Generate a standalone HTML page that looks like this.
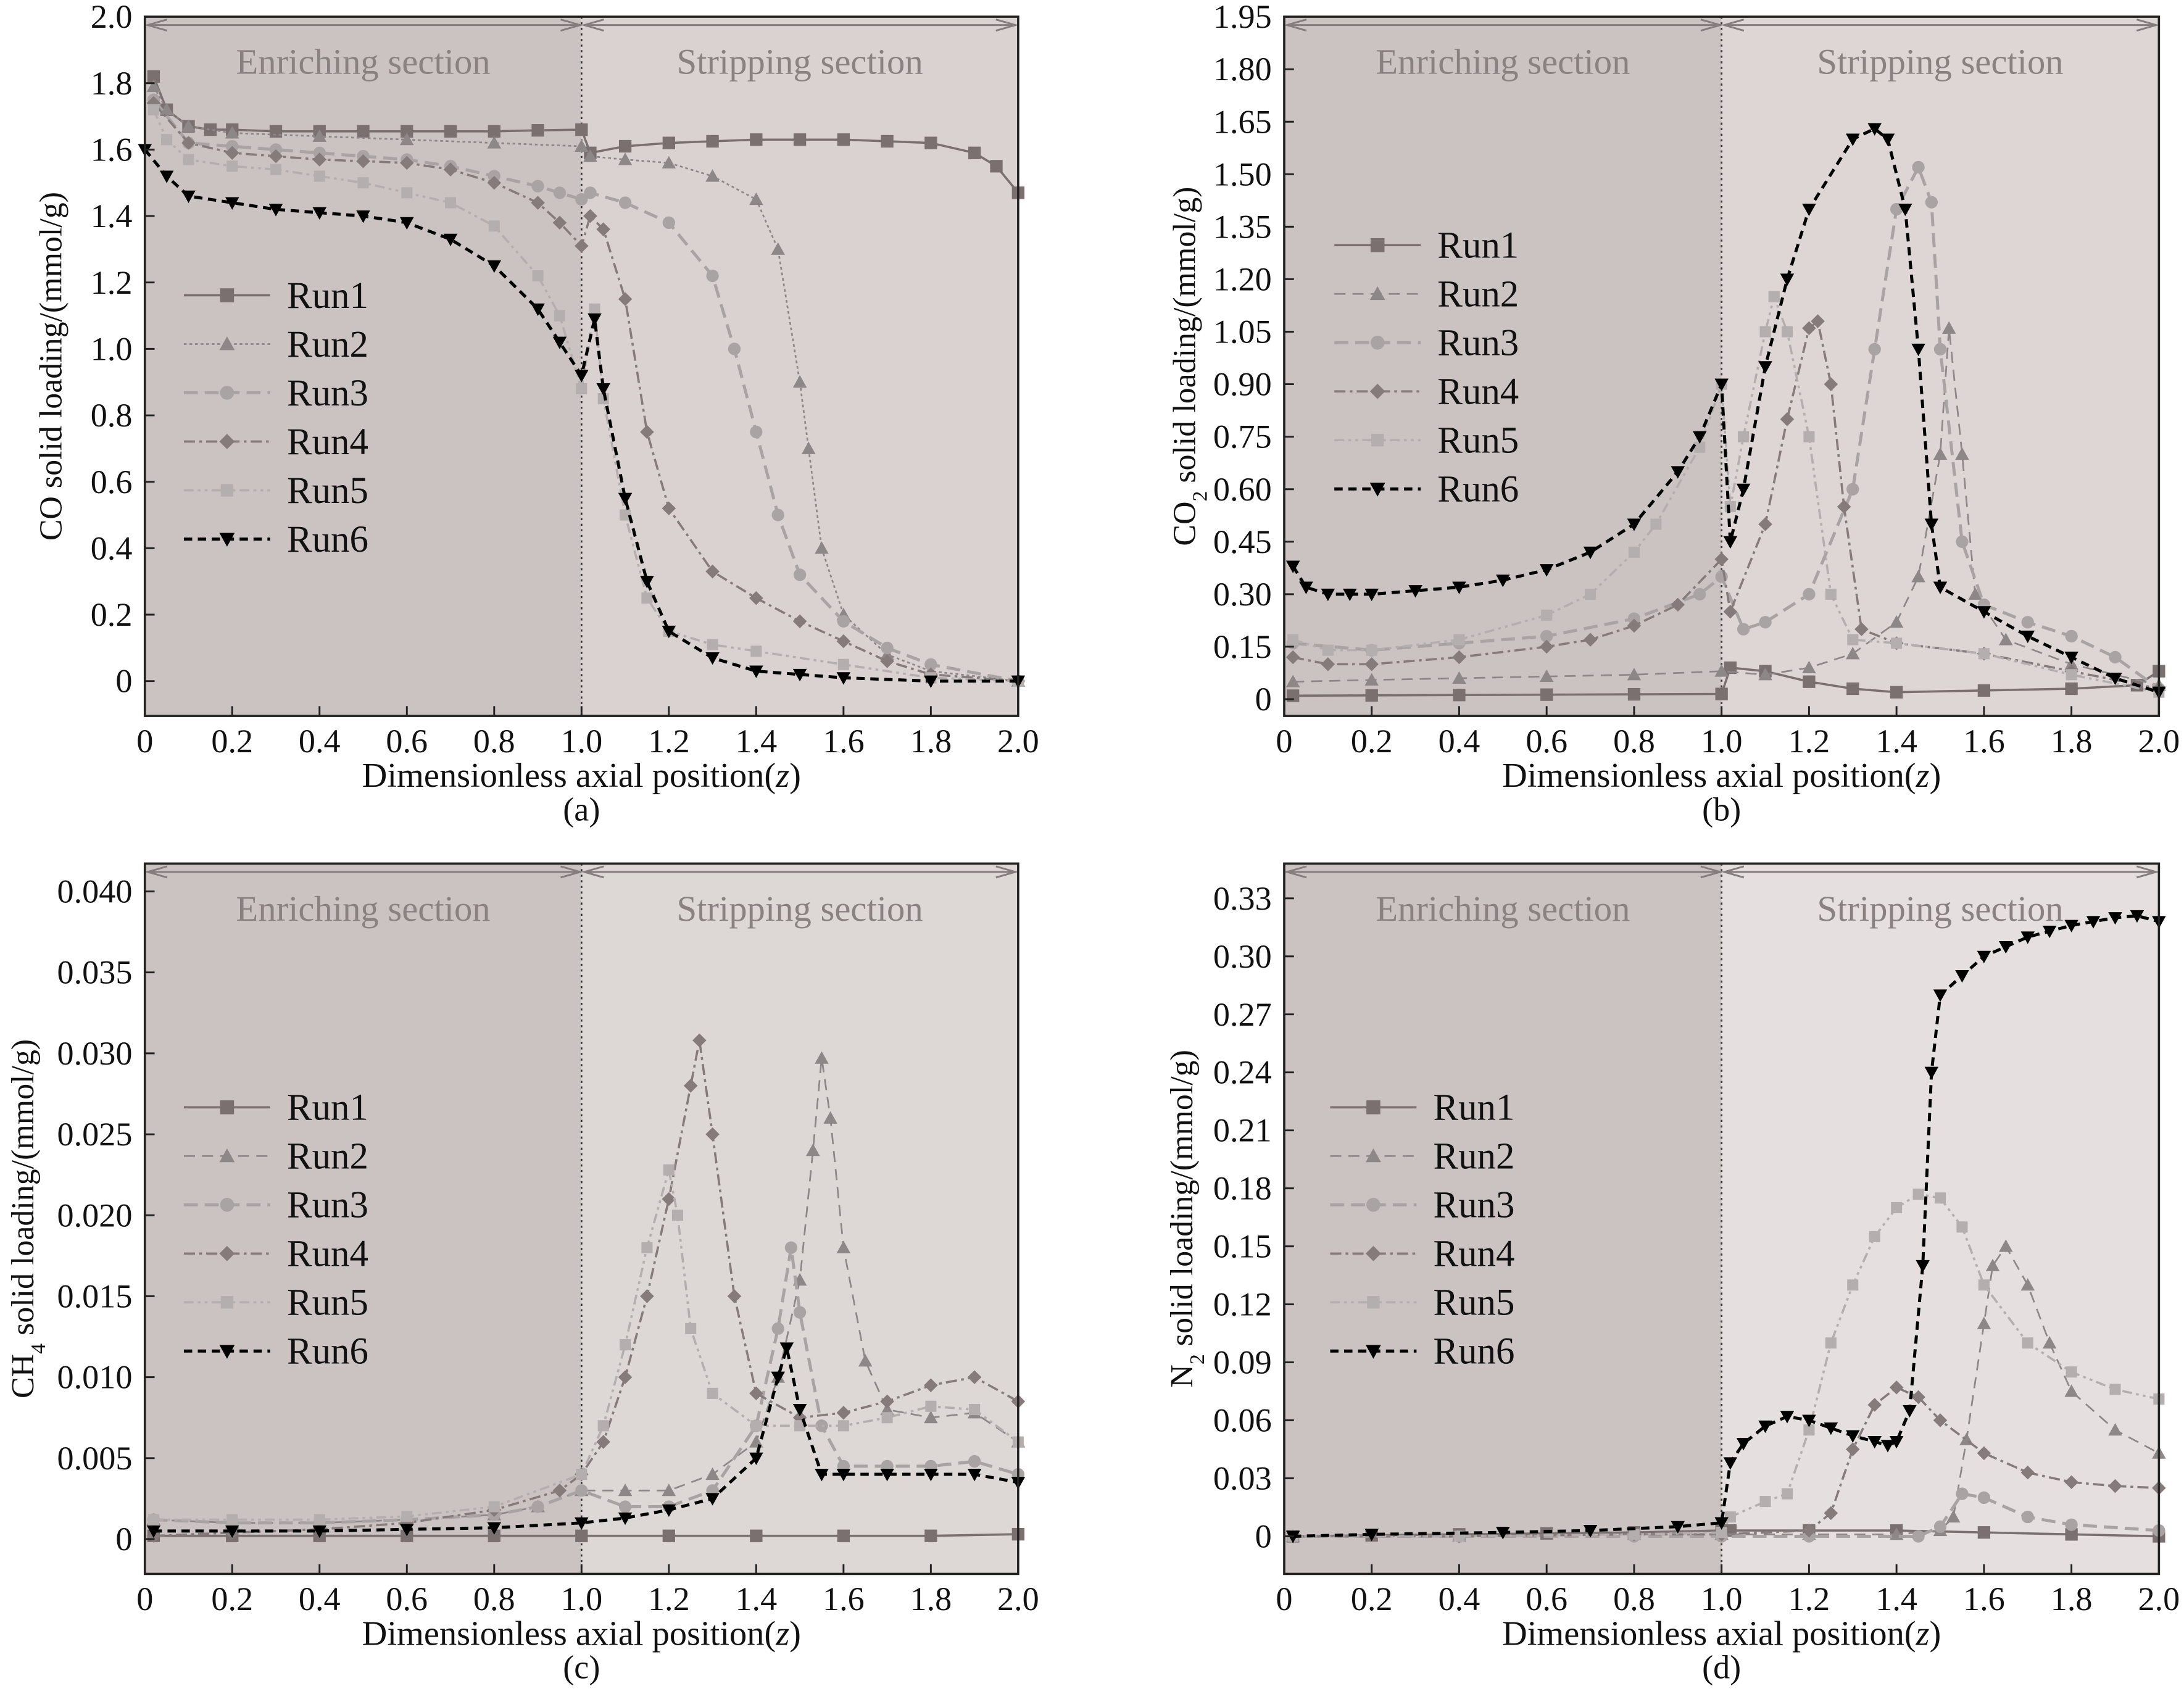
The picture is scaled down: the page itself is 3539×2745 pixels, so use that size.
<!DOCTYPE html>
<html><head><meta charset="utf-8">
<style>
html,body{margin:0;padding:0;background:#fff}
svg, svg text{font-family:"Liberation Serif","DejaVu Serif",serif}
</style></head>
<body>
<svg id="fig" width="3539" height="2740" viewBox="0 0 1568 1214" xmlns="http://www.w3.org/2000/svg" font-family="Liberation Serif, serif"></svg>
<script>
// ---- data (z positions and values) ----
const aZ1=[0.02,0.05,0.1,0.15,0.2,0.3,0.4,0.5,0.6,0.7,0.8,0.9,1.0,1.02,1.1,1.2,1.3,1.4,1.5,1.6,1.7,1.8,1.9,1.95,2.0];
const aY1=[1.82,1.72,1.67,1.66,1.66,1.655,1.655,1.655,1.655,1.655,1.655,1.658,1.66,1.59,1.61,1.62,1.625,1.63,1.63,1.63,1.625,1.62,1.59,1.55,1.47];
const aZ2=[0.02,0.05,0.1,0.2,0.4,0.6,0.8,1.0,1.02,1.1,1.2,1.3,1.4,1.45,1.5,1.52,1.55,1.6,1.7,1.8,2.0];
const aY2=[1.79,1.72,1.67,1.65,1.64,1.63,1.62,1.61,1.58,1.57,1.56,1.52,1.45,1.3,0.9,0.7,0.4,0.2,0.08,0.03,0];
const aZ3=[0.02,0.1,0.2,0.3,0.4,0.5,0.6,0.7,0.8,0.9,0.95,1.0,1.02,1.1,1.2,1.3,1.35,1.4,1.45,1.5,1.6,1.7,1.8,2.0];
const aY3=[1.75,1.62,1.61,1.6,1.59,1.58,1.57,1.55,1.52,1.49,1.47,1.45,1.47,1.44,1.38,1.22,1.0,0.75,0.5,0.32,0.18,0.1,0.05,0];
const aZ4=[0.02,0.1,0.2,0.3,0.4,0.5,0.6,0.7,0.8,0.9,0.95,1.0,1.02,1.05,1.1,1.15,1.2,1.3,1.4,1.5,1.6,1.7,1.8,2.0];
const aY4=[1.74,1.62,1.59,1.58,1.57,1.565,1.56,1.54,1.5,1.44,1.38,1.31,1.4,1.36,1.15,0.75,0.52,0.33,0.25,0.18,0.12,0.06,0.02,0];
const aZ5=[0.02,0.05,0.1,0.2,0.3,0.4,0.5,0.6,0.7,0.8,0.9,0.95,1.0,1.03,1.05,1.1,1.15,1.2,1.3,1.4,1.6,1.8,2.0];
const aY5=[1.72,1.63,1.57,1.55,1.54,1.52,1.5,1.47,1.44,1.37,1.22,1.1,0.88,1.12,0.85,0.5,0.25,0.15,0.11,0.09,0.05,0.01,0];
const aZ6=[0.0,0.05,0.1,0.2,0.3,0.4,0.5,0.6,0.7,0.8,0.9,0.95,1.0,1.03,1.05,1.1,1.15,1.2,1.3,1.4,1.5,1.6,1.8,2.0];
const aY6=[1.6,1.52,1.46,1.44,1.42,1.41,1.4,1.38,1.33,1.25,1.12,1.02,0.92,1.09,0.88,0.55,0.3,0.15,0.07,0.03,0.02,0.01,0.0,0];

const bZ1=[0.02,0.2,0.4,0.6,0.8,1.0,1.02,1.1,1.2,1.3,1.4,1.6,1.8,1.95,2.0];
const bY1=[0.01,0.011,0.012,0.013,0.014,0.015,0.09,0.08,0.05,0.03,0.02,0.025,0.03,0.04,0.08];
const bZ2=[0.02,0.2,0.4,0.6,0.8,1.0,1.1,1.2,1.3,1.4,1.45,1.5,1.52,1.55,1.58,1.65,1.8,2.0];
const bY2=[0.05,0.055,0.06,0.065,0.07,0.08,0.07,0.09,0.13,0.22,0.35,0.7,1.06,0.7,0.3,0.17,0.1,0.04];
const bZ3=[0.02,0.2,0.4,0.6,0.8,0.95,1.0,1.05,1.1,1.2,1.3,1.35,1.4,1.45,1.48,1.5,1.55,1.6,1.7,1.8,1.9,2.0];
const bY3=[0.16,0.14,0.16,0.18,0.23,0.3,0.35,0.2,0.22,0.3,0.6,1.0,1.4,1.52,1.42,1.0,0.45,0.27,0.22,0.18,0.12,0.03];
const bZ4=[0.02,0.1,0.2,0.4,0.6,0.7,0.8,0.9,1.0,1.02,1.1,1.15,1.2,1.22,1.25,1.28,1.32,1.4,1.6,1.8,2.0];
const bY4=[0.12,0.1,0.1,0.12,0.15,0.17,0.21,0.27,0.4,0.25,0.5,0.8,1.06,1.08,0.9,0.55,0.2,0.16,0.13,0.08,0.03];
const bZ5=[0.02,0.1,0.2,0.4,0.6,0.7,0.8,0.85,0.95,1.0,1.02,1.05,1.1,1.12,1.15,1.2,1.25,1.3,1.4,1.6,1.8,2.0];
const bY5=[0.17,0.14,0.14,0.17,0.24,0.3,0.42,0.5,0.72,0.9,0.55,0.75,1.05,1.15,1.05,0.75,0.3,0.17,0.16,0.13,0.07,0.02];
const bZ6=[0.02,0.05,0.1,0.15,0.2,0.3,0.4,0.5,0.6,0.7,0.8,0.9,0.95,1.0,1.02,1.05,1.1,1.15,1.2,1.3,1.35,1.38,1.42,1.45,1.48,1.5,1.6,1.7,1.8,1.9,2.0];
const bY6=[0.38,0.32,0.3,0.3,0.3,0.31,0.32,0.34,0.37,0.42,0.5,0.65,0.75,0.9,0.45,0.6,0.95,1.2,1.4,1.6,1.63,1.6,1.4,1.0,0.5,0.32,0.25,0.18,0.12,0.06,0.02];

const cZ1=[0.02,0.2,0.4,0.6,0.8,1.0,1.2,1.4,1.6,1.8,2.0];
const cY1=[0.0002,0.0002,0.0002,0.0002,0.0002,0.0002,0.0002,0.0002,0.0002,0.0002,0.0003];
const cZ2=[0.02,0.2,0.4,0.6,0.8,0.9,1.0,1.1,1.2,1.3,1.4,1.45,1.5,1.53,1.55,1.57,1.6,1.65,1.7,1.8,1.9,2.0];
const cY2=[0.0012,0.001,0.001,0.0012,0.0015,0.002,0.003,0.003,0.003,0.004,0.006,0.01,0.016,0.024,0.0297,0.026,0.018,0.011,0.008,0.0075,0.0078,0.006];
const cZ3=[0.02,0.2,0.4,0.6,0.8,0.9,1.0,1.1,1.2,1.3,1.4,1.45,1.48,1.5,1.55,1.6,1.7,1.8,1.9,2.0];
const cY3=[0.0012,0.001,0.001,0.0012,0.0015,0.002,0.003,0.002,0.002,0.003,0.007,0.013,0.018,0.014,0.007,0.0045,0.0045,0.0045,0.0048,0.004];
const cZ4=[0.02,0.2,0.4,0.6,0.8,0.95,1.0,1.05,1.1,1.15,1.2,1.25,1.27,1.3,1.35,1.4,1.5,1.6,1.7,1.8,1.9,2.0];
const cY4=[0.0002,0.0004,0.0006,0.001,0.0018,0.003,0.004,0.006,0.01,0.015,0.021,0.028,0.0308,0.025,0.015,0.009,0.0075,0.0078,0.0085,0.0095,0.01,0.0085];
const cZ5=[0.02,0.2,0.4,0.6,0.8,1.0,1.05,1.1,1.15,1.2,1.22,1.25,1.3,1.4,1.5,1.6,1.7,1.8,1.9,2.0];
const cY5=[0.0012,0.0012,0.0012,0.0014,0.002,0.004,0.007,0.012,0.018,0.0228,0.02,0.013,0.009,0.007,0.007,0.007,0.0075,0.0082,0.008,0.006];
const cZ6=[0.02,0.2,0.4,0.6,0.8,1.0,1.1,1.2,1.3,1.4,1.45,1.47,1.5,1.55,1.6,1.7,1.8,1.9,2.0];
const cY6=[0.0005,0.0005,0.0005,0.0006,0.0007,0.001,0.0013,0.0018,0.0025,0.005,0.01,0.0118,0.008,0.004,0.004,0.004,0.004,0.004,0.0035];

const dZ1=[0.02,0.2,0.4,0.6,0.8,1.0,1.02,1.2,1.4,1.6,1.8,2.0];
const dY1=[0,0.0005,0.001,0.0015,0.002,0.003,0.003,0.003,0.003,0.002,0.001,0];
const dZ2=[0.02,0.4,0.8,1.0,1.2,1.4,1.5,1.53,1.56,1.6,1.62,1.65,1.7,1.75,1.8,1.9,2.0];
const dY2=[0,0,0.001,0.001,0.001,0.001,0.003,0.01,0.05,0.11,0.14,0.15,0.13,0.1,0.075,0.055,0.043];
const dZ3=[0.02,0.4,0.8,1.0,1.2,1.45,1.5,1.55,1.6,1.7,1.8,2.0];
const dY3=[0,0,0,0,0,0,0.005,0.022,0.02,0.01,0.006,0.003];
const dZ4=[0.02,0.4,0.8,1.0,1.2,1.25,1.3,1.35,1.4,1.45,1.5,1.6,1.7,1.8,1.9,2.0];
const dY4=[0,0,0.001,0.001,0.003,0.012,0.045,0.068,0.077,0.072,0.06,0.043,0.033,0.028,0.026,0.025];
const dZ5=[0.02,0.4,0.8,1.0,1.02,1.1,1.15,1.2,1.25,1.3,1.35,1.4,1.45,1.5,1.55,1.6,1.7,1.8,1.9,2.0];
const dY5=[0,0,0.001,0.002,0.01,0.018,0.022,0.055,0.1,0.13,0.155,0.17,0.177,0.175,0.16,0.13,0.1,0.085,0.076,0.071];
const dZ6=[0.02,0.2,0.5,0.7,0.9,1.0,1.02,1.05,1.1,1.15,1.2,1.25,1.3,1.35,1.38,1.4,1.43,1.46,1.48,1.5,1.55,1.6,1.65,1.7,1.75,1.8,1.85,1.9,1.95,2.0];
const dY6=[0,0.001,0.002,0.003,0.005,0.007,0.038,0.048,0.057,0.062,0.06,0.056,0.052,0.049,0.047,0.049,0.065,0.14,0.24,0.28,0.29,0.3,0.305,0.31,0.313,0.316,0.318,0.32,0.321,0.318];

const xTicks=["0","0.2","0.4","0.6","0.8","1.0","1.2","1.4","1.6","1.8","2.0"];
const aTicks=["0","0.2","0.4","0.6","0.8","1.0","1.2","1.4","1.6","1.8","2.0"];
const bTicks=["0","0.15","0.30","0.45","0.60","0.75","0.90","1.05","1.20","1.35","1.50","1.65","1.80","1.95"];
const cTicks=["0","0.005","0.010","0.015","0.020","0.025","0.030","0.035","0.040"];
const dTicks=["0","0.03","0.06","0.09","0.12","0.15","0.18","0.21","0.24","0.27","0.30","0.33"];
const runNames=["Run1","Run2","Run3","Run4","Run5","Run6"];

const NS="http://www.w3.org/2000/svg";
const FF="Liberation Serif, DejaVu Serif, serif";
const svg=document.getElementById('fig');
function mk(tag,attrs,parent){const e=document.createElementNS(NS,tag);for(const k in attrs)e.setAttribute(k,attrs[k]);if(tag==='text')e.setAttribute('font-family',FF);(parent||svg).appendChild(e);return e;}

const styles=[
 {c:"#7a7070",dash:"",m:"square",w:1.6,ms:4.5},
 {c:"#8e8787",dash:"2,2",m:"tri",w:1.2,ms:5},
 {c:"#a9a3a3",dash:"10,5",m:"circle",w:2.2,ms:4.5},
 {c:"#857b7b",dash:"8,3,2,3",m:"diamond",w:1.6,ms:5},
 {c:"#b4aeae",dash:"7,3,2,3,2,3",m:"square",w:1.6,ms:4},
 {c:"#000000",dash:"6,4",m:"dtri",w:2.2,ms:5}
];

function marker(g,type,x,y,s,c){
 if(type==="square")return mk('rect',{x:x-s,y:y-s,width:2*s,height:2*s,fill:c},g);
 if(type==="circle")return mk('circle',{cx:x,cy:y,r:s,fill:c},g);
 if(type==="tri")return mk('polygon',{points:`${x},${y-s} ${x-s},${y+s*0.8} ${x+s},${y+s*0.8}`,fill:c},g);
 if(type==="dtri")return mk('polygon',{points:`${x},${y+s} ${x-s},${y-s*0.8} ${x+s},${y-s*0.8}`,fill:c},g);
 return mk('polygon',{points:`${x},${y-s} ${x+s},${y} ${x},${y+s} ${x-s},${y}`,fill:c},g);
}

function panel(opt){
 const {L,R,T,B,y0px,ymaxPx,ymax,ticks,series,legend,key,ylabel,sub,stripCol,enrichCol,dashes2}=opt;
 const g=mk('g',{});
 
 
 const X=z=>L+(R-L)*z/2;
 const Y=v=>y0px+(ymaxPx-y0px)*v/ymax;
 const bg1=mk('rect',{x:L,y:T,width:X(1)-L,height:B-T,fill:enrichCol},g);
 
 
 const bg2=mk('rect',{x:X(1),y:T,width:R-X(1),height:B-T,fill:stripCol},g);
 
 
 const dv=mk('line',{x1:X(1),y1:T,x2:X(1),y2:B,stroke:"#333",'stroke-width':1.2,'stroke-dasharray':"1.5,2.5"},g);
 
 
 const ay=T+6;
 [[L+2,X(1)-1],[X(1)+2,R-2]].forEach((p,i)=>{
  const ar=mk('g',{},g);
  
  
  mk('line',{x1:p[0],y1:ay,x2:p[1],y2:ay,stroke:"#857d7d",'stroke-width':1.3},ar);
  mk('polyline',{points:`${p[0]+14},${ay-4} ${p[0]},${ay} ${p[0]+14},${ay+4}`,fill:"none",stroke:"#857d7d",'stroke-width':1.3},ar);
  mk('polyline',{points:`${p[1]-14},${ay-4} ${p[1]},${ay} ${p[1]-14},${ay+4}`,fill:"none",stroke:"#857d7d",'stroke-width':1.3},ar);
 });
 const t1=mk('text',{x:(L+X(1))/2,y:T+41,'text-anchor':'middle','font-size':26,fill:"#8a8181"},g);t1.textContent="Enriching section";
 
 
 const t2=mk('text',{x:(X(1)+R)/2,y:T+41,'text-anchor':'middle','font-size':26,fill:"#8a8181"},g);t2.textContent="Stripping section";
 
 
 series.forEach((s,i)=>{
  const st=styles[i];
  const sg=mk('g',{},g);
  
  
  let dash=st.dash; if(i===1&&dashes2)dash=dashes2;
  const pts=s[0].map((z,j)=>X(z)+','+Y(s[1][j])).join(' ');
  const pl=mk('polyline',{points:pts,fill:'none',stroke:st.c,'stroke-width':st.w,'stroke-dasharray':dash},sg);
  
  
  s[0].forEach((z,j)=>{
   const m=marker(sg,st.m,X(z),Y(s[1][j]),st.ms,st.c);
   
   
  });
 });
 const fr=mk('rect',{x:L,y:T,width:R-L,height:B-T,fill:'none',stroke:'#222','stroke-width':1.6},g);
 
 
 const xa=mk('g',{},g);
 
 
 xTicks.forEach((t,i)=>{
  const z=i*0.2;
  mk('line',{x1:X(z),y1:B,x2:X(z),y2:B-7,stroke:'#222','stroke-width':1.3},xa);
  const tx=mk('text',{x:X(z),y:B+26,'text-anchor':'middle','font-size':24,fill:'#111'},xa);tx.textContent=t;
  
  
 });
 const xt=mk('text',{x:(L+R)/2,y:B+51,'text-anchor':'middle','font-size':25,fill:'#111'},g);
 xt.innerHTML='Dimensionless axial position(<tspan font-style="italic">z</tspan>)';
 
 
 const sl=mk('text',{x:(L+R)/2,y:B+75,'text-anchor':'middle','font-size':24,fill:'#111'},g);sl.textContent=sub;
 
 
 const ya=mk('g',{},g);
 
 
 const step=ymax/(ticks.length-1);
 ticks.forEach((t,i)=>{
  const y=Y(i*step);
  mk('line',{x1:L,y1:y,x2:L+7,y2:y,stroke:'#222','stroke-width':1.3},ya);
  const ty=mk('text',{x:L-9,y:y+8,'text-anchor':'end','font-size':24,fill:'#111'},ya);ty.textContent=t;
  
  
 });
 const yt=mk('text',{x:0,y:0,'text-anchor':'middle','font-size':23,fill:'#111',transform:`translate(${opt.ylx},${(T+B)/2}) rotate(-90)`},g);
 yt.innerHTML=ylabel;
 
 
 const lg=mk('g',{},g);
 
 
 runNames.forEach((n,i)=>{
  const st=styles[i];const y=legend[1]+i*35;const x=legend[0];
  let dash=st.dash; if(i===1&&dashes2)dash=dashes2;
  const e=mk('g',{},lg);
  
  
  mk('line',{x1:x,y1:y,x2:x+62,y2:y,stroke:st.c,'stroke-width':st.w,'stroke-dasharray':dash},e);
  marker(e,st.m,x+31,y,st.ms+0.5,st.c);
  const tx=mk('text',{x:x+74,y:y+9,'font-size':27,fill:'#111'},e);tx.textContent=n;
 });
}

panel({key:'a',L:104,R:731,T:12,B:514,y0px:489,ymaxPx:12,ymax:2.0,ticks:aTicks,
 series:[[aZ1,aY1],[aZ2,aY2],[aZ3,aY3],[aZ4,aY4],[aZ5,aY5],[aZ6,aY6]],
 legend:[132,212],ylabel:'CO solid loading/(mmol/g)',ylx:44,sub:'(a)',enrichCol:'#cbc3c2',stripCol:'#d9d2d1'});
panel({key:'b',L:922,R:1550,T:12,B:514,y0px:502,ymaxPx:12,ymax:1.95,ticks:bTicks,
 series:[[bZ1,bY1],[bZ2,bY2],[bZ3,bY3],[bZ4,bY4],[bZ5,bY5],[bZ6,bY6]],
 legend:[958,176],ylabel:'CO<tspan baseline-shift="sub" font-size="15">2</tspan> solid loading/(mmol/g)',ylx:858,sub:'(b)',enrichCol:'#cbc3c2',stripCol:'#ddd6d5',dashes2:'8,5'});
panel({key:'c',L:104,R:731,T:620,B:1130,y0px:1105,ymaxPx:640,ymax:0.04,ticks:cTicks,
 series:[[cZ1,cY1],[cZ2,cY2],[cZ3,cY3],[cZ4,cY4],[cZ5,cY5],[cZ6,cY6]],
 legend:[132,795],ylabel:'CH<tspan baseline-shift="sub" font-size="15">4</tspan> solid loading/(mmol/g)',ylx:24,sub:'(c)',enrichCol:'#cbc3c2',stripCol:'#ddd7d6',dashes2:'8,5'});
panel({key:'d',L:922,R:1550,T:620,B:1130,y0px:1103,ymaxPx:645,ymax:0.33,ticks:dTicks,
 series:[[dZ1,dY1],[dZ2,dY2],[dZ3,dY3],[dZ4,dY4],[dZ5,dY5],[dZ6,dY6]],
 legend:[955,795],ylabel:'N<tspan baseline-shift="sub" font-size="15">2</tspan> solid loading/(mmol/g)',ylx:856,sub:'(d)',enrichCol:'#cbc3c2',stripCol:'#e5e0df',dashes2:'8,5'});
</script>
</body></html>
